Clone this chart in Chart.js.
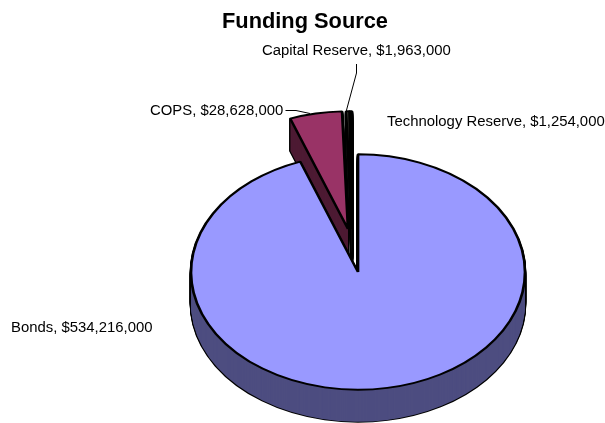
<!DOCTYPE html>
<html>
<head>
<meta charset="utf-8">
<style>html,body{margin:0;padding:0;background:#fff}canvas{display:block}</style>
<script src="https://cdn.jsdelivr.net/npm/chart.js@4"></script>
</head>
<body>
<canvas id="c" width="605" height="423"></canvas>
<script>
// Funding sources, clockwise from the start of the COPS wedge
const categories = ['COPS', 'Capital Reserve', 'Technology Reserve', 'Bonds'];
const amounts = [28628000, 1963000, 1254000, 534216000];
const topColors = ['#993366', '#55554a', '#4a5555', '#9999FF'];
const sideColors = ['#4D1A33', '#111111', '#111111', '#4D4D80'];

// Pie tilt and pull-out of the small wedges
const tilt = 0.705;
const centerX = 358;
const centerY = 272;
const radius = 167;
const depth = 32;
const edgeWidth = 2.7;
const pullX = [-10, -6, -6, 0];
const pullY = [-61, -61, -61, 0];

const money = v => '$' + v.toLocaleString('en-US');
const labelFor = i => categories[i] + ', ' + money(amounts[i]);

// Where each text label sits, plus leader lines from label to wedge
const labelPlaces = [
  {x: 150, y: 111},
  {x: 262, y: 51},
  {x: 387, y: 122},
  {x: 11, y: 328}
];
const leaders = [
  [[285.5, 110.5], [296, 110.5], [310, 113.5]],
  [[356.5, 64], [356.5, 73], [346, 112]]
];

const tiltPlugin = {
  id: 'tiltedPie',
  afterDatasetUpdate(chart) {
    const arcs = chart.getDatasetMeta(0).data;
    arcs.forEach((arc, i) => {
      arc.x += pullX[i];
      arc.y += pullY[i];
    });
  },
  beforeDatasetsDraw(chart) {
    const ctx = chart.ctx;
    const area = chart.chartArea;
    const arcs = chart.getDatasetMeta(0).data;
    ctx.save();
    ctx.translate(centerX - (area.left + area.right) / 2, centerY);
    ctx.scale(1, tilt);
    ctx.translate(0, -(area.top + area.bottom) / 2);

    // Extruded sides: a black silhouette, then the side colour inside it
    const paint = (arc, fill, stroke, width, shift) => {
      const saved = arc.options;
      arc.options = Object.assign({}, saved, {
        backgroundColor: fill, borderColor: stroke, borderWidth: width
      });
      ctx.save();
      ctx.translate(0, shift / tilt);
      arc.draw(ctx);
      ctx.restore();
      arc.options = saved;
    };
    arcs.forEach((arc, i) => {
      for (let d = depth; d >= 1; d--) paint(arc, '#000', '#000', edgeWidth, d);
      for (let d = depth; d >= 1; d--) paint(arc, sideColors[i], sideColors[i], 0, d);
    });
  },
  afterDatasetsDraw(chart) {
    const ctx = chart.ctx;
    ctx.restore();
    ctx.save();
    ctx.strokeStyle = '#000';
    ctx.lineWidth = 1;
    leaders.forEach(line => {
      ctx.beginPath();
      line.forEach((p, k) => k ? ctx.lineTo(p[0], p[1]) : ctx.moveTo(p[0], p[1]));
      ctx.stroke();
    });
    ctx.fillStyle = '#000';
    ctx.font = '14.9px "Liberation Sans", Arial, sans-serif';
    ctx.textBaseline = 'middle';
    ctx.textAlign = 'left';
    labelPlaces.forEach((p, i) => ctx.fillText(labelFor(i), p.x, p.y));
    ctx.restore();
  }
};

const wedgeTotal = amounts.slice(0, 3).reduce((a, b) => a + b, 0);
const allTotal = amounts.reduce((a, b) => a + b, 0);

new Chart(document.getElementById('c'), {
  type: 'pie',
  data: {
    labels: categories,
    datasets: [{
      data: amounts,
      backgroundColor: topColors,
      borderColor: '#000',
      borderWidth: edgeWidth,
      clip: false
    }]
  },
  options: {
    responsive: false,
    animation: false,
    radius: radius,
    rotation: -360 * wedgeTotal / allTotal,
    layout: {padding: {left: 5}},
    plugins: {
      legend: {display: false},
      tooltip: {enabled: false},
      title: {
        display: true,
        text: 'Funding Source',
        color: '#000',
        font: {family: '"Liberation Sans", Arial, sans-serif', size: 21.8, weight: 'bold'},
        padding: {top: 9, bottom: 6}
      }
    }
  },
  plugins: [tiltPlugin]
});
</script>
</body>
</html>
